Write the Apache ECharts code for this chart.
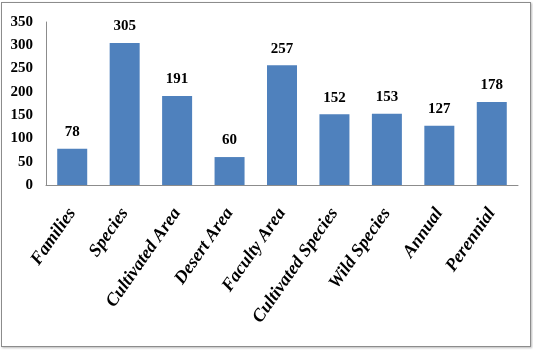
<!DOCTYPE html>
<html>
<head>
<meta charset="utf-8">
<script src="https://cdn.jsdelivr.net/npm/echarts@6/dist/echarts.min.js"></script>
<style>
  html, body { margin: 0; padding: 0; background: #fff; }
  .frame {
    position: absolute; left: 1px; top: 2px;
    width: 528px; height: 343px;
    border: 1px solid #8c8c8c;
    box-shadow: 1px 1px 2px #bbb;
  }
  #chart { position: absolute; left: 0; top: 0; width: 533px; height: 351px; }
</style>
</head>
<body>
<div class="frame"></div>
<div id="chart"></div>
<script>
const categories = ['Families', 'Species', 'Cultivated Area', 'Desert Area', 'Faculty Area',
  'Cultivated Species', 'Wild Species', 'Annual', 'Perennial'];
const counts = [78, 305, 191, 60, 257, 152, 153, 127, 178];

const serif = '"Liberation Serif", "Times New Roman", serif';

const chart = echarts.init(document.getElementById('chart'));
chart.setOption({
  animation: false,
  grid: { left: 46, right: 15, top: 22, bottom: 166 },
  xAxis: {
    type: 'category',
    data: categories,
    axisLine: { lineStyle: { color: '#8c8c8c' } },
    axisTick: { show: false },
    axisLabel: {
      interval: 0,
      rotate: 55,
      margin: 25,
      color: '#000',
      fontFamily: serif,
      fontWeight: 'bold',
      fontStyle: 'italic',
      fontSize: 18
    }
  },
  yAxis: {
    type: 'value',
    min: 0,
    max: 350,
    interval: 50,
    splitLine: { show: false },
    axisLine: { show: true, lineStyle: { color: '#8c8c8c' } },
    axisTick: { show: false },
    axisLabel: {
      margin: 13,
      color: '#000',
      fontFamily: serif,
      fontWeight: 'bold',
      fontSize: 15
    }
  },
  series: [{
    type: 'bar',
    data: counts,
    barWidth: 30,
    itemStyle: { color: '#4f81bd' },
    label: {
      show: true,
      position: 'top',
      distance: 9,
      color: '#000',
      fontFamily: serif,
      fontWeight: 'bold',
      fontSize: 15
    }
  }]
});
</script>
</body>
</html>
